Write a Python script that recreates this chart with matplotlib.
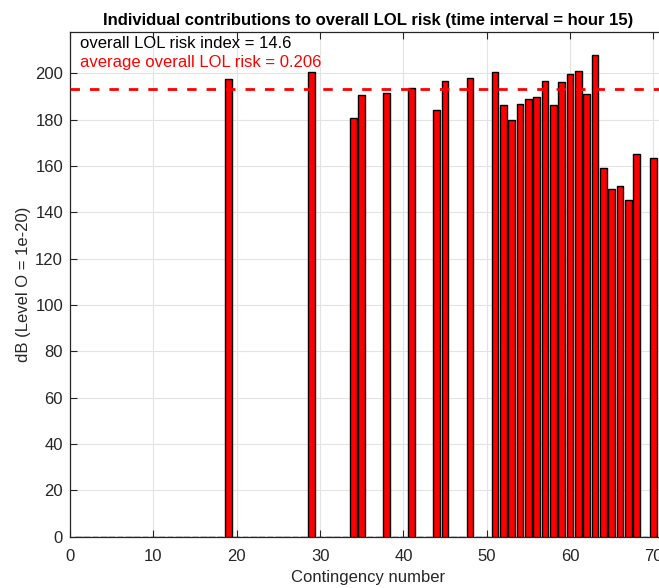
import numpy as np
import matplotlib
matplotlib.use('Agg')
import matplotlib.pyplot as plt

plt.rcParams['font.family'] = ['Liberation Sans', 'DejaVu Sans']

# contingency numbers with a non-zero contribution, and their level in dB (ref 1e-20)
cont_ids = [19, 29, 34, 35, 38, 41, 44, 45, 48,
            51, 52, 53, 54, 55, 56, 57, 58, 59, 60,
            61, 62, 63, 64, 65, 66, 67, 68, 70]
cont_db = [197.5, 200.4, 180.8, 190.6, 191.4, 193.8, 184.2, 196.8, 197.8,
           200.4, 186.3, 179.7, 186.6, 188.9, 189.8, 196.5, 186.2, 196.1, 199.8,
           200.9, 191.1, 208.0, 159.0, 149.9, 151.2, 145.2, 165.2, 163.6]
n_cont = 70
overall_index = 14.6
average_risk = 0.206

x = np.arange(1, n_cont + 1)
y = np.zeros(n_cont)
for c, v in zip(cont_ids, cont_db):
    y[c - 1] = v
avg_db = 10 * np.log10(average_risk / 1e-20)

fig = plt.figure(figsize=(6.59, 5.88), dpi=100)
# axes runs a bit past the right edge of the figure (cropped like the original)
ax = fig.add_axes([70 / 659, 51.3 / 588, 596 / 659, 504.4 / 588])

ax.bar(x, y, width=0.8, color='#ff0000', edgecolor='black', linewidth=1.0, zorder=3)
ax.axhline(avg_db, color='#ff0000', linewidth=2.0, dashes=(3.4, 3.6), zorder=4)

ax.set_xlim(0, 71.5)
ax.set_ylim(0, 217.7)
ax.set_xticks(np.arange(0, 71, 10))
ax.set_yticks(np.arange(0, 201, 20))
ax.grid(True, color='#e3e3e3', linewidth=0.8, zorder=0)
ax.set_axisbelow(True)
ax.tick_params(direction='in', top=True, right=False, length=5, width=0.8,
               labelsize=12, colors='#262626')
ax.tick_params(axis='x', pad=9)
ax.tick_params(axis='y', pad=5)
for s in ['left', 'bottom', 'top']:
    ax.spines[s].set_color('#262626')
    ax.spines[s].set_linewidth(0.9)
ax.spines['right'].set_visible(False)

ax.set_title('Individual contributions to overall LOL risk (time interval = hour 15)',
             fontsize=12, fontweight='bold', pad=5)
ax.set_xlabel('Contingency number', fontsize=12, color='#262626', labelpad=4)
ax.set_ylabel('dB (Level O = 1e-20)', fontsize=12, color='#262626', labelpad=3)

ax.text(1.2, 213, f'overall LOL risk index = {overall_index}', fontsize=12,
        color='black', va='center', ha='left')
ax.text(1.2, 204.7, f'average overall LOL risk = {average_risk}', fontsize=12,
        color='#ff0000', va='center', ha='left')

fig.savefig('out.png', dpi=100)
